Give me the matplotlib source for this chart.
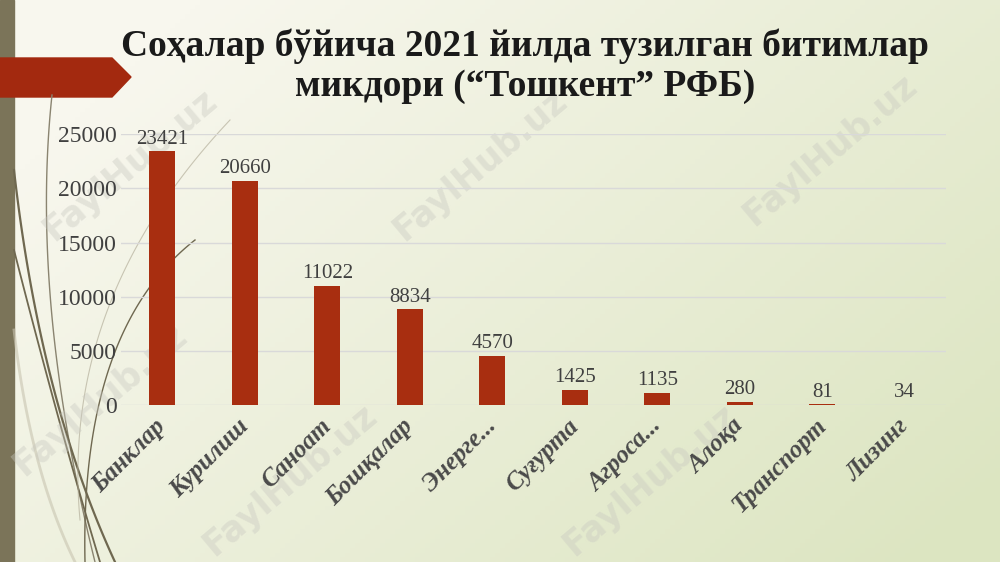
# Bar chart: number of deals concluded in 2021 by sector ("Toshkent" RFB)
import numpy as np
import matplotlib.pyplot as plt
import matplotlib.transforms as mtransforms
from matplotlib.patches import Polygon

sectors = ['Банклар', 'Курилиш', 'Саноат', 'Бошқалар', 'Энерге...',
           'Суғурта', 'Агроса...', 'Алоқа', 'Транспорт', 'Лизинг']
deals = [23421, 20660, 11022, 8834, 4570, 1425, 1135, 280, 81, 34]
yticks = [0, 5000, 10000, 15000, 20000, 25000]

title = 'Соҳалар бўйича 2021 йилда тузилган битимлар\nмикдори (“Тошкент” РФБ)'

W, H = 1000, 562
fig = plt.figure(figsize=(10, 5.62), dpi=100)

# background gradient
bg = fig.add_axes([0, 0, 1, 1], zorder=-10)
gx, gy = np.meshgrid(np.linspace(0, 1, 200), np.linspace(0, 1, 120))
t = np.clip(0.75 * gx + 0.45 * gy - 0.15, 0, 1)[..., None]
c0 = np.array([248, 247, 238]) / 255
c1 = np.array([220, 229, 193]) / 255
bg.imshow(c0 * (1 - t) + c1 * t, extent=[0, W, H, 0], aspect='auto')
bg.set_xlim(0, W)
bg.set_ylim(H, 0)
bg.axis('off')

# decorative curves on the left
def curve(p0, p1, p2, lw, col, a=1.0):
    s = np.linspace(0, 1, 100)[:, None]
    pts = (1 - s) ** 2 * np.array(p0) + 2 * (1 - s) * s * np.array(p1) + s ** 2 * np.array(p2)
    bg.plot(pts[:, 0], pts[:, 1], color=col, lw=lw, alpha=a)

curve((52, 95), (30, 300), (95, 562), 1.0, '#8a8470')
curve((14, 170), (40, 400), (115, 562), 1.6, '#6f6850')
curve((14, 250), (60, 430), (100, 562), 1.3, '#6f6850')
curve((195, 240), (80, 330), (85, 562), 1.0, '#6f6850')
curve((230, 120), (60, 300), (80, 520), 0.8, '#b5b09c', 0.7)
curve((14, 330), (30, 470), (75, 562), 2.0, '#c8c4b0', 0.6)

bg.add_patch(plt.Rectangle((0, 0), 14, H, color='#7b7459'))
bg.add_patch(Polygon([(0, 58), (112, 58), (131, 77), (112, 97), (0, 97)],
                     closed=True, color='#a3290f'))

# watermarks
for wx, wy in [(130, 165), (480, 165), (830, 150), (650, 480), (290, 480), (100, 400)]:
    bg.text(wx, wy, 'FaylHub.uz', rotation=40, fontsize=25, fontweight='bold',
            color='#c8c8c0', alpha=0.4, ha='center', va='center', family='DejaVu Sans')

# chart
ax = fig.add_axes([0.121, 0.279, 0.825, 0.4822])
ax.set_facecolor('none')
x = np.arange(len(sectors))
ax.bar(x, deals, width=0.31, color='#a82e10', zorder=3)
ax.set_xlim(-0.5, len(sectors) - 0.5)
ax.set_ylim(0, 25000)
ax.set_yticks(yticks)
ax.set_yticklabels([str(v) for v in yticks], fontsize=17, family='Liberation Serif', color='#404040')
ax.grid(axis='y', color='#d9d9d9', lw=1, zorder=0)
ax.tick_params(length=0, pad=3)
for s in ax.spines.values():
    s.set_visible(False)

for xi, v in zip(x, deals):
    ax.annotate(str(v), (xi, v), xytext=(0, 2), textcoords='offset points',
                ha='center', va='bottom', fontsize=15, family='Liberation Serif', color='#404040')

ax.set_xticks(x)
ax.set_xticklabels(sectors, rotation=45, ha='right', rotation_mode='anchor',
                   fontsize=18, fontstyle='italic', fontweight='bold',
                   family='Liberation Serif', color='#4a4a4a')
off = mtransforms.ScaledTranslation(-0.08, -0.05, fig.dpi_scale_trans)
for lab in ax.get_xticklabels():
    lab.set_transform(lab.get_transform() + off)

fig.text(0.525, 0.882, title, ha='center', va='center', fontsize=27, fontweight='bold',
         family='Liberation Serif', color='#1a1a1a', linespacing=1.2)

fig.savefig('out.png', dpi=100)
